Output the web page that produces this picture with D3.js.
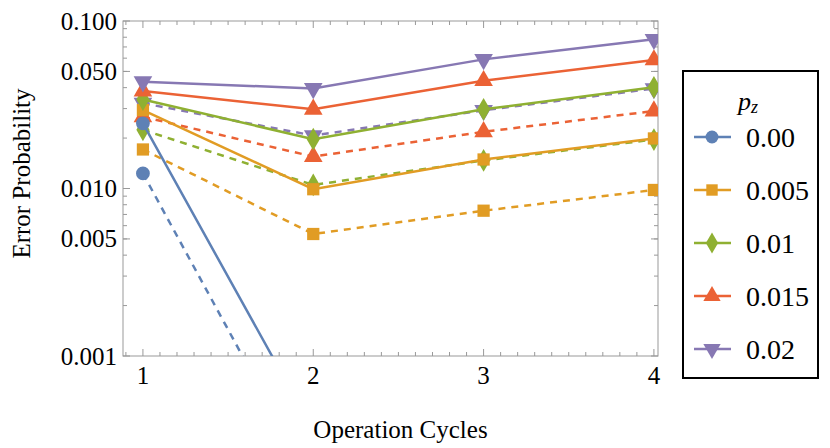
<!DOCTYPE html>
<html>
<head>
<meta charset="utf-8">
<script src="https://cdn.jsdelivr.net/npm/d3@7"></script>
<style>
  body { margin: 0; background: white; }
  text { font-family: "Liberation Serif", serif; }
</style>
</head>
<body>
<svg id="chart" width="830" height="448"></svg>
<script>
var cycles = [1, 2, 3, 4];
var pzLabels = ['0.00', '0.005', '0.01', '0.015', '0.02'];
var colors = ['#5E81B5', '#E19C24', '#8FB032', '#EB6235', '#8778B3'];
var symbols = [d3.symbolCircle, d3.symbolSquare, d3.symbolDiamond, d3.symbolTriangle, 'down'];

// solid and dashed series per p_z (values below 0.001 run off the plot)
var solid0 = [0.0245, 0.00036, 0.00001, 0.000001];
var solid1 = [0.0294, 0.0099, 0.0149, 0.0199];
var solid2 = [0.034, 0.0197, 0.0297, 0.0402];
var solid3 = [0.0382, 0.0297, 0.044, 0.0585];
var solid4 = [0.0434, 0.0396, 0.059, 0.0778];
var dashed0 = [0.0123, 0.000168, 0.000003, 0.0000001];
var dashed1 = [0.0171, 0.00535, 0.00737, 0.0098];
var dashed2 = [0.0224, 0.0105, 0.0147, 0.0196];
var dashed3 = [0.0268, 0.0155, 0.0218, 0.029];
var dashed4 = [0.0323, 0.0207, 0.0293, 0.0395];

var yTicks = [0.001, 0.005, 0.010, 0.050, 0.100];
var yTickLabels = ['0.001', '0.005', '0.010', '0.050', '0.100'];

var solids = [solid0, solid1, solid2, solid3, solid4];
var dashes = [dashed0, dashed1, dashed2, dashed3, dashed4];

var svg = d3.select('#chart');
var pLeft = 123, pRight = 658, pTop = 21, pBottom = 356;

var x = d3.scaleLinear().domain([0.883, 4.024]).range([pLeft, pRight]);
var y = d3.scaleLog().domain([0.001, 0.1]).range([pBottom, pTop]);

svg.append('defs').append('clipPath').attr('id', 'clip')
    .append('rect').attr('x', pLeft).attr('y', pTop)
    .attr('width', pRight - pLeft).attr('height', pBottom - pTop);

// minor ticks
var minor = [];
[0.001, 0.01].forEach(function(d) {
  for (var k = 2; k <= 9; k++) minor.push(d * k);
});
var xMinor = d3.range(0.9, 4.01, 0.1).map(function(d) { return Math.round(d * 10) / 10; });

var frame = svg.append('g').attr('stroke', '#999').attr('stroke-width', 1);
frame.append('rect').attr('x', pLeft).attr('y', pTop)
    .attr('width', pRight - pLeft).attr('height', pBottom - pTop).attr('fill', 'none');

minor.forEach(function(d) {
  frame.append('line').attr('x1', pLeft).attr('x2', pLeft + 4).attr('y1', y(d)).attr('y2', y(d));
  frame.append('line').attr('x1', pRight).attr('x2', pRight - 4).attr('y1', y(d)).attr('y2', y(d));
});
yTicks.forEach(function(d) {
  frame.append('line').attr('x1', pLeft).attr('x2', pLeft + 7).attr('y1', y(d)).attr('y2', y(d));
  frame.append('line').attr('x1', pRight).attr('x2', pRight - 7).attr('y1', y(d)).attr('y2', y(d));
});
xMinor.forEach(function(d) {
  var len = Number.isInteger(d) ? 7 : 4;
  frame.append('line').attr('x1', x(d)).attr('x2', x(d)).attr('y1', pBottom).attr('y2', pBottom - len);
  frame.append('line').attr('x1', x(d)).attr('x2', x(d)).attr('y1', pTop).attr('y2', pTop + len);
});

svg.selectAll('text.ytick').data(yTicks).join('text')
    .attr('class', 'ytick')
    .attr('x', pLeft - 6).attr('y', function(d) { return y(d); })
    .attr('text-anchor', 'end').attr('dominant-baseline', 'central')
    .attr('font-size', 25)
    .text(function(d, i) { return yTickLabels[i]; });

svg.selectAll('text.xtick').data(cycles).join('text')
    .attr('class', 'xtick')
    .attr('x', function(d) { return x(d); }).attr('y', pBottom + 28)
    .attr('text-anchor', 'middle')
    .attr('font-size', 25)
    .text(function(d) { return d; });

svg.append('text').attr('x', (pLeft + pRight) / 2 + 10).attr('y', 438)
    .attr('text-anchor', 'middle').attr('font-size', 25)
    .text('Operation Cycles');
svg.append('text').attr('transform', 'translate(30,' + ((pTop + pBottom) / 2 - 15) + ') rotate(-90)')
    .attr('text-anchor', 'middle').attr('font-size', 25)
    .text('Error Probability');

function symbolPath(s, size) {
  if (s === 'down') {
    return d3.symbol().type(d3.symbolTriangle).size(size)();
  }
  return d3.symbol().type(s).size(size)();
}
function symTransform(s, px, py) {
  return 'translate(' + px + ',' + py + ')' + (s === 'down' ? ' rotate(180)' : '');
}

var line = d3.line().x(function(d, i) { return x(cycles[i]); }).y(function(d) { return y(d); });
var plot = svg.append('g').attr('clip-path', 'url(#clip)');

function drawSeries(vals, i, dashed) {
  plot.append('path').datum(vals)
      .attr('d', line).attr('fill', 'none')
      .attr('stroke', colors[i]).attr('stroke-width', 2.5)
      .attr('stroke-dasharray', dashed ? '7,6' : null);
  plot.selectAll(null).data(vals).join('path')
      .attr('d', symbolPath(symbols[i], 150))
      .attr('transform', function(d, k) { return symTransform(symbols[i], x(cycles[k]), y(d)); })
      .attr('fill', colors[i]);
}
for (var i = 0; i < 5; i++) drawSeries(dashes[i], i, true);
for (var i = 0; i < 5; i++) drawSeries(solids[i], i, false);

// legend
var lg = svg.append('g');
lg.append('rect').attr('x', 683).attr('y', 71).attr('width', 135).attr('height', 307)
    .attr('fill', 'white').attr('stroke', 'black').attr('stroke-width', 2);
var title = lg.append('text').attr('x', 738).attr('y', 110).attr('font-size', 26).attr('font-style', 'italic');
title.append('tspan').text('p');
title.append('tspan').attr('font-size', 18).attr('dy', 3).text('z');

pzLabels.forEach(function(lab, i) {
  var ly = 137 + i * 53;
  lg.append('line').attr('x1', 694).attr('x2', 731).attr('y1', ly).attr('y2', ly)
      .attr('stroke', colors[i]).attr('stroke-width', 2.5);
  lg.append('path').attr('d', symbolPath(symbols[i], 130))
      .attr('transform', symTransform(symbols[i], 712, ly)).attr('fill', colors[i]);
  lg.append('text').attr('x', 746).attr('y', ly).attr('dominant-baseline', 'central')
      .attr('font-size', 28).text(lab);
});
</script>
</body>
</html>
